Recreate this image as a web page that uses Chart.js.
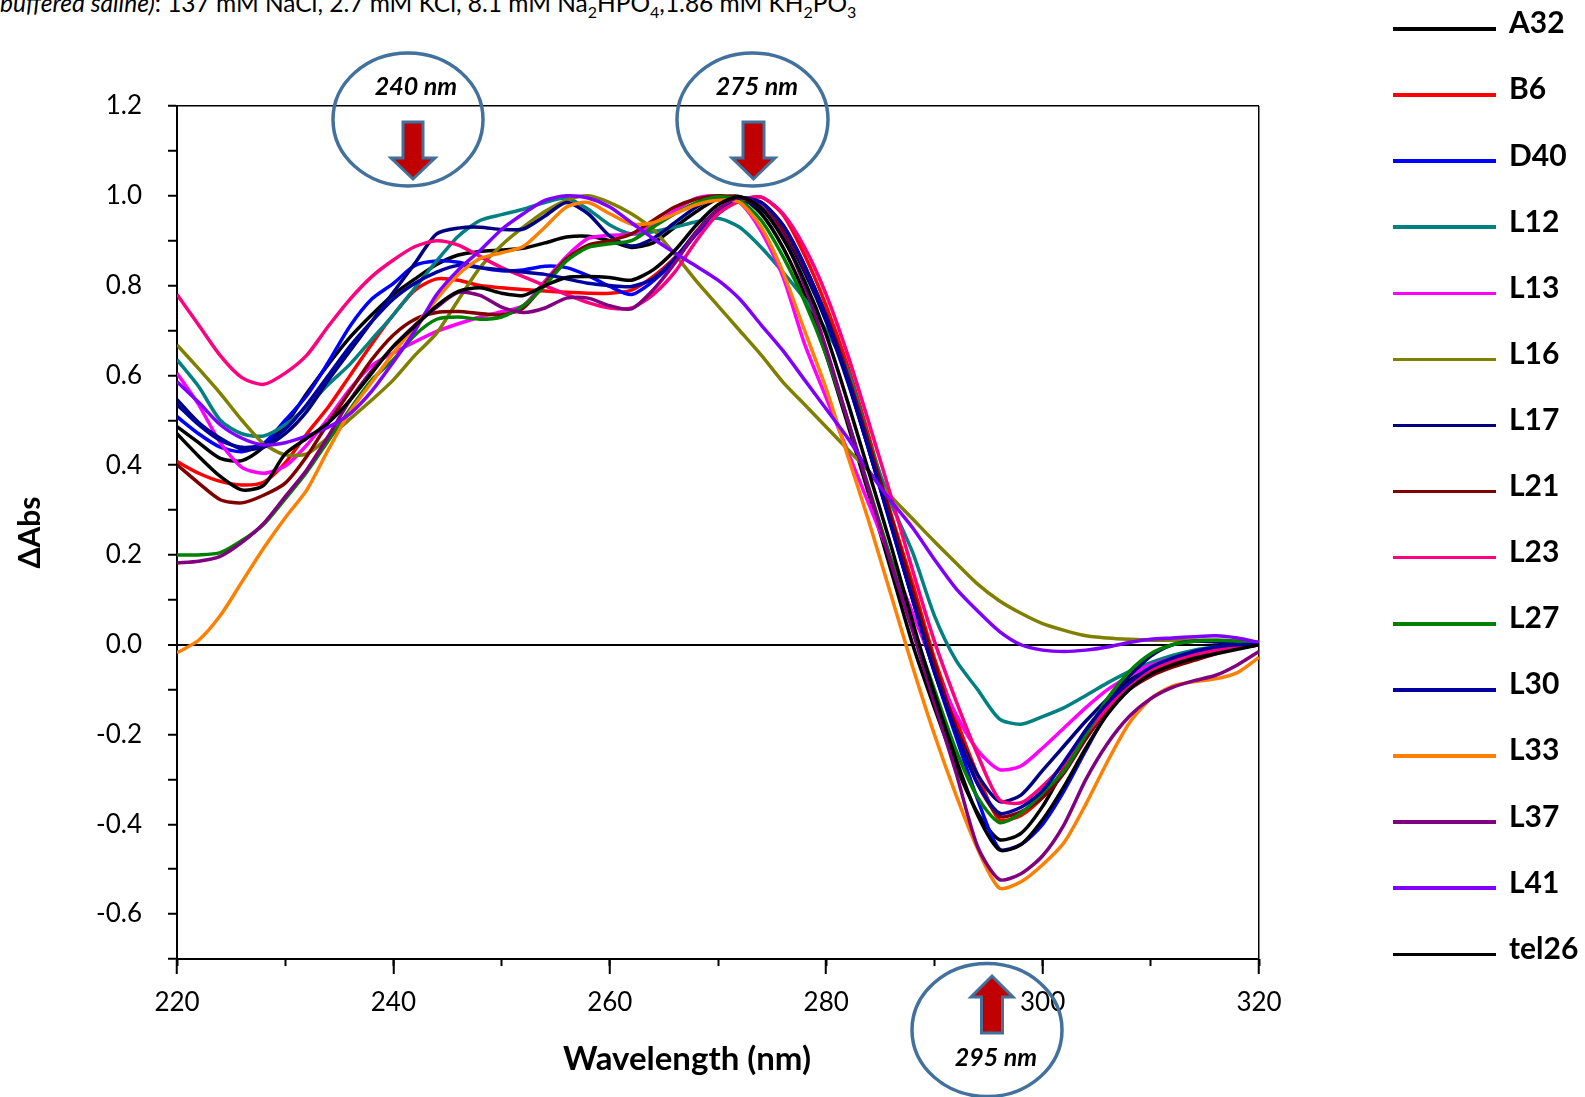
<!DOCTYPE html>
<html>
<head>
<meta charset="utf-8">
<title>ΔAbs spectra</title>
<script src="https://cdn.jsdelivr.net/npm/chart.js@4.4.1/dist/chart.umd.min.js"></script>
<style>
  html, body { margin: 0; padding: 0; background: #fff; }
  body { width: 1585px; height: 1097px; position: relative; overflow: hidden; font-family: Lato, 'Noto Sans', sans-serif; color: #000; }
  #chart { position: absolute; left: 0; top: 0; }
  .caption { position: absolute; left: 0; top: -9px; font-size: 24.5px; line-height: 24px; white-space: nowrap; }
  .caption sub { font-size: 16px; line-height: 0; vertical-align: -6px; }
  .xtitle { position: absolute; left: 687px; top: 1041px; transform: translateX(-50%); font-size: 33px; line-height: 33px; font-weight: bold; white-space: nowrap; }
  .lg-line { position: absolute; left: 1393px; width: 103px; height: 3.5px; }
  .lg-label { position: absolute; left: 1509px; font-size: 30px; line-height: 30px; font-weight: bold; white-space: nowrap; }
  svg.notes { position: absolute; left: 0; top: 0; pointer-events: none; }
  svg.notes text { font-family: Lato, sans-serif; font-size: 25px; font-weight: bold; font-style: italic; fill: #000; }
</style>
</head>
<body>
<div class="caption"><i>buffered saline)</i>: 137 mM NaCl, 2.7 mM KCl, 8.1 mM Na<sub>2</sub>HPO<sub>4</sub>,1.86 mM KH<sub>2</sub>PO<sub>3</sub></div>
<canvas id="chart" width="1585" height="1097"></canvas>
<div class="xtitle">Wavelength (nm)</div>
<div id="legend"></div>
<svg class="notes" width="1585" height="1097">
  <ellipse cx="408" cy="119.5" rx="75" ry="66.5" fill="none" stroke="#41719C" stroke-width="3.5"/>
  <ellipse cx="752.5" cy="119.5" rx="75.5" ry="66.5" fill="none" stroke="#41719C" stroke-width="3.5"/>
  <ellipse cx="987" cy="1030" rx="75" ry="66.5" fill="none" stroke="#41719C" stroke-width="3.5"/>
  <polygon points="403,122 423,122 423,158 435,158 413,179 391,158 403,158" fill="#C00000" stroke="#41719C" stroke-width="3"/>
  <polygon points="743,122 764,122 764,158 775,158 753.5,179 732,158 743,158" fill="#C00000" stroke="#41719C" stroke-width="3"/>
  <polygon points="992,976 1013,997 1002.5,997 1002.5,1033 981.5,1033 981.5,997 971,997" fill="#C00000" stroke="#41719C" stroke-width="3"/>
  <text x="416" y="95" text-anchor="middle">240 nm</text>
  <text x="757" y="95" text-anchor="middle">275 nm</text>
  <text x="996" y="1066" text-anchor="middle">295 nm</text>
</svg>
<script>
// normalised difference spectra, read every 2 nm

const wavelengths = [220, 222, 224, 226, 228, 230, 232, 234, 236, 238,
  240, 242, 244, 246, 248, 250, 252, 254, 256, 258,
  260, 262, 264, 266, 268, 270, 272, 274, 276, 278,
  280, 282, 284, 286, 288, 290, 292, 294, 296, 298,
  300, 302, 304, 306, 308, 310, 312, 314, 316, 318, 320];

const A32 = [0.486, 0.45, 0.415, 0.41, 0.44, 0.49, 0.56, 0.625, 0.685, 0.735,
  0.78, 0.815, 0.847, 0.868, 0.876, 0.879, 0.883, 0.895, 0.908, 0.91,
  0.9, 0.885, 0.895, 0.93, 0.965, 0.993, 0.998, 0.96, 0.885, 0.78,
  0.645, 0.49, 0.33, 0.165, 0.0, -0.14, -0.27, -0.375, -0.434, -0.42,
  -0.36, -0.275, -0.19, -0.13, -0.08, -0.05, -0.03, -0.02, -0.012, -0.005, 0.0];
const B6 = [0.408, 0.382, 0.364, 0.356, 0.362, 0.405, 0.47, 0.53, 0.6, 0.67,
  0.735, 0.79, 0.815, 0.812, 0.8, 0.795, 0.791, 0.788, 0.785, 0.783,
  0.783, 0.79, 0.82, 0.862, 0.915, 0.96, 0.988, 0.997, 0.958, 0.868,
  0.755, 0.62, 0.46, 0.29, 0.135, -0.03, -0.165, -0.29, -0.39, -0.38,
  -0.34, -0.275, -0.2, -0.135, -0.09, -0.058, -0.04, -0.025, -0.015, -0.008, 0.0];
const D40 = [0.508, 0.47, 0.44, 0.43, 0.448, 0.5, 0.555, 0.63, 0.71, 0.77,
  0.805, 0.845, 0.855, 0.852, 0.84, 0.833, 0.835, 0.843, 0.84, 0.822,
  0.798, 0.78, 0.81, 0.855, 0.915, 0.965, 0.995, 0.985, 0.935, 0.845,
  0.73, 0.59, 0.43, 0.265, 0.1, -0.06, -0.205, -0.345, -0.455, -0.445,
  -0.4, -0.325, -0.235, -0.15, -0.09, -0.055, -0.035, -0.02, -0.012, -0.006, 0.0];
const L12 = [0.635, 0.575, 0.5, 0.47, 0.465, 0.49, 0.53, 0.58, 0.625, 0.68,
  0.735, 0.795, 0.855, 0.91, 0.945, 0.958, 0.97, 0.985, 0.995, 0.97,
  0.935, 0.915, 0.92, 0.93, 0.942, 0.95, 0.93, 0.885, 0.83, 0.77,
  0.7, 0.61, 0.45, 0.315, 0.205, 0.065, -0.035, -0.1, -0.165, -0.177,
  -0.16, -0.14, -0.113, -0.085, -0.06, -0.04, -0.024, -0.012, -0.005, -0.001, 0.0];
const L13 = [0.605, 0.535, 0.45, 0.395, 0.382, 0.398, 0.445, 0.505, 0.57, 0.622,
  0.65, 0.675, 0.698, 0.715, 0.73, 0.742, 0.755, 0.81, 0.865, 0.905,
  0.912, 0.915, 0.935, 0.967, 0.995, 1.0, 0.985, 0.92, 0.82, 0.67,
  0.55, 0.43, 0.31, 0.19, 0.07, -0.05, -0.155, -0.235, -0.278, -0.27,
  -0.23, -0.185, -0.14, -0.1, -0.07, -0.045, -0.03, -0.018, -0.01, -0.005, 0.0];
const L16 = [0.668, 0.615, 0.56, 0.5, 0.448, 0.423, 0.425, 0.462, 0.503, 0.545,
  0.59, 0.645, 0.694, 0.768, 0.84, 0.89, 0.93, 0.965, 0.99, 1.0,
  0.985, 0.96, 0.925, 0.87, 0.81, 0.755, 0.7, 0.645, 0.585, 0.535,
  0.485, 0.435, 0.385, 0.33, 0.28, 0.23, 0.182, 0.135, 0.098, 0.07,
  0.047, 0.032, 0.02, 0.015, 0.012, 0.01, 0.01, 0.01, 0.01, 0.008, 0.005];
const L17 = [0.546, 0.495, 0.46, 0.436, 0.44, 0.47, 0.52, 0.59, 0.655, 0.72,
  0.785, 0.85, 0.915, 0.928, 0.93, 0.925, 0.926, 0.955, 0.985, 0.96,
  0.91, 0.888, 0.905, 0.94, 0.975, 0.998, 0.993, 0.97, 0.92, 0.83,
  0.72, 0.585, 0.43, 0.27, 0.1, -0.06, -0.185, -0.29, -0.349, -0.335,
  -0.28, -0.225, -0.17, -0.12, -0.07, -0.025, 0.0, 0.008, 0.006, 0.002, 0.0];
const L21 = [0.401, 0.36, 0.323, 0.316, 0.333, 0.36, 0.42, 0.495, 0.565, 0.635,
  0.69, 0.725, 0.74, 0.742, 0.738, 0.735, 0.75, 0.805, 0.86, 0.89,
  0.9, 0.915, 0.945, 0.975, 0.993, 1.0, 0.995, 0.975, 0.925, 0.84,
  0.735, 0.6, 0.445, 0.285, 0.12, -0.04, -0.185, -0.31, -0.382, -0.372,
  -0.34, -0.285, -0.21, -0.145, -0.1, -0.07, -0.05, -0.035, -0.02, -0.008, 0.0];
const L23 = [0.78, 0.712, 0.644, 0.595, 0.58, 0.605, 0.645, 0.71, 0.77, 0.82,
  0.857, 0.887, 0.9, 0.89, 0.865, 0.84, 0.82, 0.8, 0.78, 0.762,
  0.75, 0.75, 0.78, 0.83, 0.9, 0.96, 0.99, 0.997, 0.96, 0.885,
  0.78, 0.645, 0.49, 0.33, 0.165, 0.008, -0.125, -0.245, -0.345, -0.352,
  -0.315, -0.265, -0.2, -0.14, -0.09, -0.058, -0.035, -0.022, -0.012, -0.005, 0.0];
const L27 = [0.2, 0.2, 0.205, 0.232, 0.268, 0.325, 0.385, 0.455, 0.525, 0.59,
  0.635, 0.69, 0.725, 0.73, 0.725, 0.73, 0.755, 0.8, 0.855, 0.885,
  0.893, 0.9, 0.93, 0.96, 0.985, 0.998, 0.99, 0.945, 0.865, 0.765,
  0.645, 0.5, 0.345, 0.19, 0.04, -0.1, -0.235, -0.34, -0.396, -0.375,
  -0.33, -0.28, -0.2, -0.12, -0.06, -0.02, 0.0, 0.008, 0.01, 0.008, 0.005];
const L30 = [0.535, 0.49, 0.455, 0.44, 0.445, 0.48, 0.535, 0.6, 0.665, 0.72,
  0.77, 0.805, 0.83, 0.845, 0.84, 0.835, 0.83, 0.825, 0.815, 0.805,
  0.8, 0.798, 0.815, 0.86, 0.92, 0.97, 0.995, 0.985, 0.935, 0.845,
  0.73, 0.59, 0.43, 0.265, 0.1, -0.06, -0.195, -0.31, -0.375, -0.362,
  -0.325, -0.26, -0.19, -0.13, -0.085, -0.05, -0.03, -0.015, -0.005, 0.0, 0.0];
const L33 = [-0.018, 0.01, 0.065, 0.14, 0.215, 0.283, 0.345, 0.435, 0.52, 0.585,
  0.65, 0.71, 0.77, 0.825, 0.86, 0.873, 0.887, 0.93, 0.975, 0.985,
  0.96, 0.937, 0.94, 0.96, 0.98, 0.99, 0.985, 0.93, 0.83, 0.7,
  0.57, 0.42, 0.27, 0.11, -0.05, -0.2, -0.335, -0.455, -0.542, -0.528,
  -0.49, -0.44, -0.355, -0.26, -0.175, -0.12, -0.092, -0.082, -0.076, -0.062, -0.028];
const L37 = [0.182, 0.186, 0.197, 0.228, 0.27, 0.33, 0.39, 0.465, 0.545, 0.61,
  0.664, 0.712, 0.752, 0.785, 0.778, 0.752, 0.74, 0.75, 0.772, 0.772,
  0.755, 0.748, 0.79, 0.85, 0.92, 0.97, 0.997, 0.975, 0.91, 0.8,
  0.66, 0.5, 0.34, 0.18, 0.03, -0.13, -0.285, -0.45, -0.523, -0.51,
  -0.47, -0.4, -0.3, -0.22, -0.16, -0.12, -0.095, -0.08, -0.068, -0.045, -0.015];
const L41 = [0.586, 0.54, 0.49, 0.46, 0.445, 0.45, 0.465, 0.485, 0.515, 0.565,
  0.63, 0.7, 0.78, 0.835, 0.878, 0.925, 0.96, 0.99, 1.0, 0.995,
  0.975, 0.94, 0.905, 0.873, 0.843, 0.812, 0.77, 0.712, 0.655, 0.59,
  0.525, 0.46, 0.385, 0.32, 0.26, 0.19, 0.125, 0.075, 0.03, 0.0,
  -0.012, -0.015, -0.012, -0.005, 0.005, 0.012, 0.015, 0.018, 0.02, 0.015, 0.005];
const tel26 = [0.47, 0.42, 0.375, 0.345, 0.355, 0.425, 0.46, 0.495, 0.545, 0.605,
  0.665, 0.71, 0.755, 0.787, 0.795, 0.783, 0.778, 0.8, 0.818, 0.82,
  0.818, 0.812, 0.835, 0.878, 0.935, 0.98, 0.998, 0.972, 0.905, 0.81,
  0.69, 0.54, 0.38, 0.22, 0.05, -0.11, -0.255, -0.38, -0.457, -0.445,
  -0.39, -0.315, -0.23, -0.155, -0.1, -0.065, -0.045, -0.03, -0.02, -0.01, 0.0];

const seriesNames = ['A32', 'B6', 'D40', 'L12', 'L13', 'L16', 'L17', 'L21', 'L23', 'L27', 'L30', 'L33', 'L37', 'L41', 'tel26'];
const seriesValues = [A32, B6, D40, L12, L13, L16, L17, L21, L23, L27, L30, L33, L37, L41, tel26];
const seriesColors = ['#000000', '#FF0000', '#0000FF', '#008080', '#FF00FF', '#808000', '#000080', '#800000',
  '#FF0080', '#008000', '#0000A0', '#FF8000', '#800080', '#8000FF', '#000000'];

const yTicks = { min: -0.7, max: 1.2, step: 0.1 };
const xTicks = { min: 220, max: 320, major: 20, minor: 10 };

Chart.defaults.font.family = 'Lato';
Chart.defaults.color = '#000';

function renderLegend() {
  const el = document.getElementById('legend');
  el.innerHTML = seriesNames.map((name, i) => {
    const y = 28.9 + i * 66.1;
    return `
      <div class="lg-line" style="top:${(y - 1.75).toFixed(1)}px;background:${seriesColors[i]}"></div>
      <div class="lg-label" style="top:${(y - 22.6).toFixed(1)}px">${name}</div>`;
  }).join('');
}

function isAt(v, target) { return Math.abs(v - target) < 1e-6; }

function renderChart() {
  const datasets = seriesNames.map((name, i) => ({
    label: name,
    data: wavelengths.map((w, j) => ({ x: w, y: seriesValues[i][j] })),
    borderColor: seriesColors[i],
    backgroundColor: seriesColors[i],
    borderWidth: 3.5,
    pointRadius: 0,
    tension: 0.25,
    fill: false,
    xAxisID: 'x',
    yAxisID: 'y',
    order: seriesNames.length - i,
  }));

  new Chart(document.getElementById('chart'), {
    type: 'line',
    data: { datasets },
    options: {
      responsive: false,
      animation: false,
      devicePixelRatio: 1,
      layout: { padding: { top: 106, right: 326, left: 0, bottom: 0 } },
      plugins: { legend: { display: false }, tooltip: { enabled: false } },
      scales: {
        x: {
          type: 'linear',
          position: 'bottom',
          min: xTicks.min,
          max: xTicks.max,
          afterFit: s => { s.height = 138; },
          ticks: { stepSize: xTicks.major, font: { size: 26 }, color: '#000', padding: 13, maxRotation: 0, autoSkip: false },
          grid: {
            color: ctx => isAt(ctx.tick.value, xTicks.max) ? '#000' : 'transparent',
            lineWidth: 1.5,
            tickLength: 15,
            tickColor: '#000',
            tickWidth: 2,
          },
          border: { display: true, color: '#000', width: 2 },
        },
        xMinor: {
          type: 'linear',
          axis: 'x',
          position: { y: yTicks.min },
          min: xTicks.min,
          max: xTicks.max,
          afterFit: s => { s.height = 0; },
          ticks: { display: false, stepSize: xTicks.minor },
          grid: { drawOnChartArea: false, tickLength: 7, tickColor: '#000', tickWidth: 2 },
          border: { display: false },
        },
        y: {
          min: yTicks.min,
          max: yTicks.max,
          afterFit: s => { s.width = 177; },
          ticks: {
            stepSize: yTicks.step,
            font: { size: 26 },
            color: '#000',
            padding: 26,
            callback: v => {
              const k = Math.round(v * 10);
              return k % 2 === 0 ? (k / 10).toFixed(1) : '';
            },
          },
          grid: {
            color: ctx => (isAt(ctx.tick.value, 0) || isAt(ctx.tick.value, yTicks.max)) ? '#000' : 'transparent',
            lineWidth: ctx => isAt(ctx.tick.value, 0) ? 2 : 1.5,
            tickLength: 9,
            tickColor: '#000',
            tickWidth: 2,
          },
          border: { display: true, color: '#000', width: 2 },
          title: { display: true, text: 'ΔAbs', font: { size: 30, weight: 'bold' }, color: '#000', padding: { top: 12 } },
        },
      },
    },
  });
}

renderLegend();
renderChart();
</script>
</body>
</html>
